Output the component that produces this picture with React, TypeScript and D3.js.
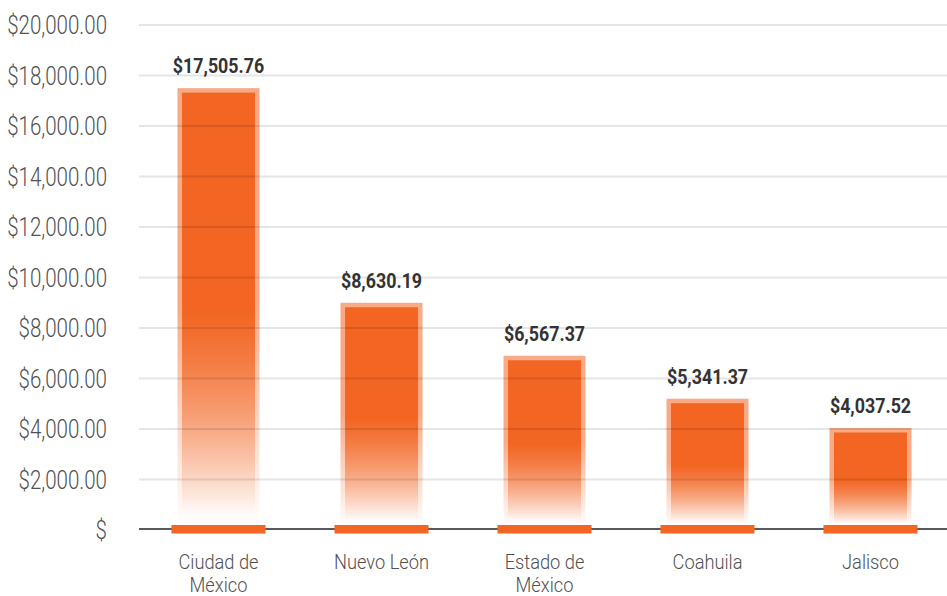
import React from "react";
import * as d3 from "d3";

const categories: string[][] = [
  ["Ciudad de", "México"],
  ["Nuevo León"],
  ["Estado de", "México"],
  ["Coahuila"],
  ["Jalisco"],
];
const labelValues = [17505.76, 8630.19, 6567.37, 5341.37, 4037.52];
// bar heights as drawn in the reference graphic
const barHeights = [17500, 9000, 6900, 5200, 4040];
const yTicks = [0, 2000, 4000, 6000, 8000, 10000, 12000, 14000, 16000, 18000, 20000];

const W = 947;
const H = 596;
const ORANGE = "#F26522";

const fmtMoney = (v: number) => "$" + d3.format(",.2f")(v);
const fmtTick = (v: number) => (v === 0 ? "$" : "$" + d3.format(",.2f")(v));

export default function App() {
  const x = d3
    .scaleBand<number>()
    .domain(d3.range(categories.length))
    .range([137, 952])
    .padding(0);
  const y = d3.scaleLinear().domain([0, 20000]).range([530, 25]);
  const step = x.step();
  const outerW = step * 0.503;
  const inset = 4.5;
  const baseW = step * 0.577;
  const font = "Roboto, 'Noto Sans', sans-serif";

  return (
    <svg
      width={W}
      height={H}
      style={{ position: "absolute", left: 0, top: 0, background: "#fff" }}
    >
      <defs>
        <linearGradient id="gOuter" x1="0" y1="0" x2="0" y2="1">
          <stop offset="0" stopColor={ORANGE} stopOpacity={0.55} />
          <stop offset="0.5" stopColor={ORANGE} stopOpacity={0.55} />
          <stop offset="1" stopColor={ORANGE} stopOpacity={0} />
        </linearGradient>
        <linearGradient id="gInner" x1="0" y1="0" x2="0" y2="1">
          <stop offset="0" stopColor={ORANGE} stopOpacity={1} />
          <stop offset="0.5" stopColor={ORANGE} stopOpacity={1} />
          <stop offset="0.97" stopColor={ORANGE} stopOpacity={0} />
        </linearGradient>
      </defs>

      {/* bars */}
      {barHeights.map((v, i) => {
        const cx = (x(i) as number) + step / 2;
        const top = y(v);
        const bottom = y(0) - 4;
        return (
          <g key={"b" + i}>
            <rect
              x={cx - outerW / 2}
              y={top}
              width={outerW}
              height={bottom - top}
              fill="url(#gOuter)"
            />
            <rect
              x={cx - outerW / 2 + inset}
              y={top + inset}
              width={outerW - 2 * inset}
              height={bottom - top - inset}
              fill="url(#gInner)"
            />
          </g>
        );
      })}

      {/* gridlines */}
      {yTicks
        .filter((t) => t > 0)
        .map((t) => (
          <line
            key={"g" + t}
            x1={139}
            x2={W}
            y1={y(t)}
            y2={y(t)}
            stroke="#000"
            strokeOpacity={0.1}
            strokeWidth={2}
          />
        ))}

      {/* axis line */}
      <line x1={139} x2={W} y1={y(0) - 1} y2={y(0) - 1} stroke="#222" strokeWidth={1.5} />

      {/* base bars */}
      {barHeights.map((_, i) => {
        const cx = (x(i) as number) + step / 2;
        return (
          <rect
            key={"base" + i}
            x={cx - baseW / 2}
            y={y(0) - 5}
            width={baseW}
            height={8.5}
            fill={ORANGE}
          />
        );
      })}

      {/* y tick labels */}
      {yTicks.map((t) => (
        <text
          key={"t" + t}
          transform={`translate(107,${y(t) + 9}) scale(0.82,1)`}
          textAnchor="end"
          fontFamily={font}
          fontWeight={300}
          fontSize={25}
          fill="#505050"
        >
          {fmtTick(t)}
        </text>
      ))}

      {/* value labels */}
      {labelValues.map((v, i) => {
        const cx = (x(i) as number) + step / 2;
        return (
          <text
            key={"v" + i}
            transform={`translate(${cx},${y(barHeights[i]) - 15}) scale(0.85,1)`}
            textAnchor="middle"
            fontFamily={font}
            fontWeight={700}
            fontSize={21}
            fill="#333"
          >
            {fmtMoney(v)}
          </text>
        );
      })}

      {/* category labels */}
      {categories.map((lines, i) => {
        const cx = (x(i) as number) + step / 2;
        return lines.map((ln, j) => (
          <text
            key={"c" + i + "-" + j}
            transform={`translate(${cx},${569 + j * 23}) scale(0.87,1)`}
            textAnchor="middle"
            fontFamily={font}
            fontWeight={300}
            fontSize={21}
            fill="#505050"
          >
            {ln}
          </text>
        ));
      })}
    </svg>
  );
}
